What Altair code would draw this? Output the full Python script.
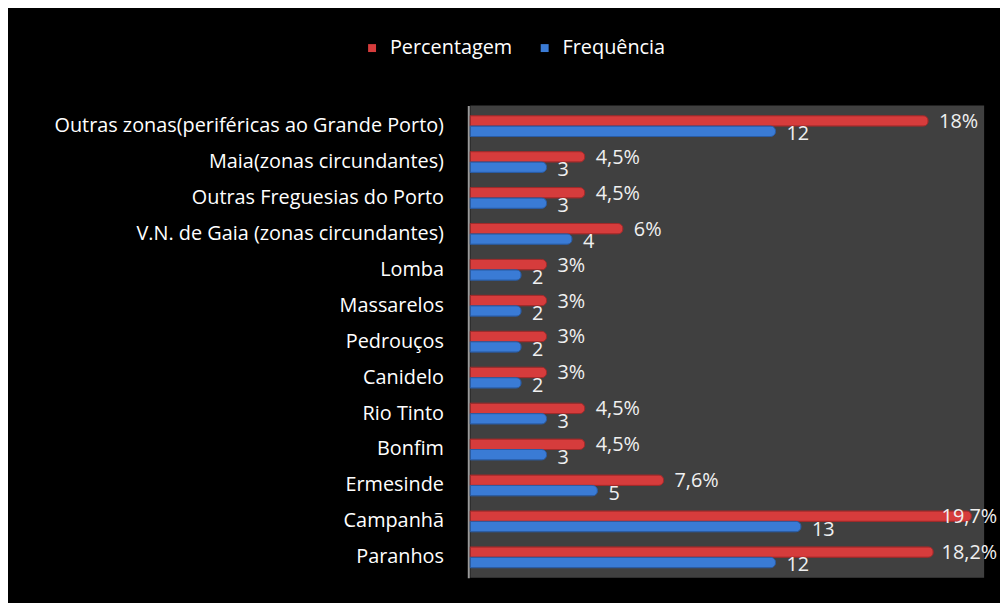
import altair as alt
import pandas as pd

categories = [
    "Outras zonas(periféricas ao Grande Porto)",
    "Maia(zonas circundantes)",
    "Outras Freguesias do Porto",
    "V.N. de Gaia (zonas circundantes)",
    "Lomba",
    "Massarelos",
    "Pedrouços",
    "Canidelo",
    "Rio Tinto",
    "Bonfim",
    "Ermesinde",
    "Campanhã",
    "Paranhos",
]
percentagem = [18, 4.5, 4.5, 6, 3, 3, 3, 3, 4.5, 4.5, 7.6, 19.7, 18.2]
percentagem_labels = ["18%", "4,5%", "4,5%", "6%", "3%", "3%", "3%", "3%",
                      "4,5%", "4,5%", "7,6%", "19,7%", "18,2%"]
frequencia = [12, 3, 3, 4, 2, 2, 2, 2, 3, 3, 5, 13, 12]
frequencia_labels = [str(v) for v in frequencia]
series = ["Percentagem", "Frequência"]
colors = ["#d63c3c", "#3a7bd5"]
edge_colors = ["#a32a2a", "#2a5da6"]

rows = []
for c, p, pl, f, fl in zip(categories, percentagem, percentagem_labels,
                           frequencia, frequencia_labels):
    rows.append({"cat": c, "serie": series[0], "value": p, "label": pl})
    rows.append({"cat": c, "serie": series[1], "value": f, "label": fl})
df = pd.DataFrame(rows)

FONT = "Open Sans"

y_enc = alt.Y("cat:N", sort=categories,
              scale=alt.Scale(paddingInner=0.42, paddingOuter=0.28),
              axis=alt.Axis(title=None, labelColor="white", labelFontSize=20,
                            labelFont=FONT, ticks=False, domainColor="#9a9a9a",
                            domainWidth=2, offset=2, labelPadding=25,
                            labelLimit=0))
yoff = alt.YOffset("serie:N", sort=series, scale=alt.Scale(paddingInner=0, paddingOuter=0))
xscale = alt.Scale(domain=[0, 20.2], nice=False, zero=True)
x_enc = alt.X("value:Q", scale=xscale, axis=None)

bars = alt.Chart(df).mark_bar(cornerRadiusEnd=5, strokeWidth=1).encode(
    y=y_enc,
    yOffset=yoff,
    x=x_enc,
    color=alt.Color("serie:N", sort=series,
                    scale=alt.Scale(domain=series, range=colors),
                    legend=alt.Legend(title=None, orient="none", direction="horizontal",
                                      legendX=-109, legendY=-68,
                                      symbolType="square", symbolSize=64,
                                      symbolStrokeWidth=0, labelColor="white",
                                      labelFontSize=20, labelFont=FONT,
                                      labelOffset=8, columnPadding=22)),
    stroke=alt.Stroke("serie:N", sort=series,
                      scale=alt.Scale(domain=series, range=edge_colors),
                      legend=None),
)

text_p = alt.Chart(df).transform_filter(alt.datum.serie == series[0]).transform_calculate(
    lx="min(datum.value, 18.1)"
).mark_text(
    align="left", baseline="middle", dx=11, dy=1, color="#f0f0f0",
    fontSize=20, font=FONT
).encode(y=alt.Y("cat:N", sort=categories), yOffset=yoff,
         x=alt.X("lx:Q", scale=xscale, axis=None), text="label:N")

text_f = alt.Chart(df).transform_filter(alt.datum.serie == series[1]).mark_text(
    align="left", baseline="middle", dx=11, dy=3, color="#f0f0f0",
    fontSize=20, font=FONT
).encode(y=alt.Y("cat:N", sort=categories), yOffset=yoff, x=x_enc, text="label:N")

chart = alt.layer(bars, text_p, text_f).properties(
    width=518, height=476,
    background="black",
    padding={"left": 466, "top": 96, "right": 16, "bottom": 23},
    autosize=alt.AutoSizeParams(type="none"),
).configure_view(fill="#404040", stroke=None)

chart.save("out.html", embed_options={"renderer": "svg", "actions": False})
